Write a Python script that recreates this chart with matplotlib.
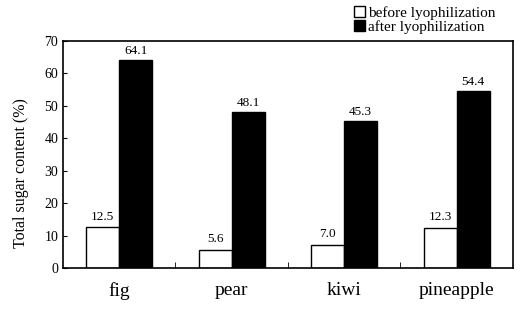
import matplotlib.pyplot as plt
import matplotlib.patches as mpatches
import numpy as np

plt.rcParams['font.family'] = ['Liberation Serif', 'DejaVu Serif']

fruits = ["fig", "pear", "kiwi", "pineapple"]
before = [12.5, 5.6, 7.0, 12.3]
after = [64.1, 48.1, 45.3, 54.4]

fig = plt.figure(figsize=(5.22, 3.12), dpi=100)
ax = fig.add_axes([0.1207, 0.141, 0.862, 0.728])

x = np.arange(len(fruits))
w = 0.293
ax.bar(x - w / 2, before, w, color="white", edgecolor="black", linewidth=1.0)
ax.bar(x + w / 2, after, w, color="black", edgecolor="black", linewidth=1.0)

for xi, b, a in zip(x, before, after):
    ax.text(xi - w / 2, b + 1.5, f"{b:.1f}", ha="center", va="bottom", fontsize=9.5)
    ax.text(xi + w / 2, a + 1.0, f"{a:.1f}", ha="center", va="bottom", fontsize=9.5)

ax.set_xlim(-0.5, 3.5)
ax.set_ylim(0, 70)
ax.set_yticks(range(0, 71, 10))
ax.set_xticks(x)
ax.set_xticklabels(fruits, fontsize=14)
ax.tick_params(axis="x", length=0, pad=10)
ax.tick_params(axis="y", direction="in", length=3, labelsize=10)
ax.set_xticks(x[:-1] + 0.5, minor=True)
ax.tick_params(axis="x", which="minor", direction="in", length=4)
ax.set_ylabel("Total sugar content (%)", fontsize=11.5)
ax.yaxis.set_label_coords(-0.075, 0.42)
for s in ax.spines.values():
    s.set_linewidth(1.2)

handles = [mpatches.Patch(facecolor="white", edgecolor="black", label="before lyophilization"),
           mpatches.Patch(facecolor="black", edgecolor="black", label="after lyophilization")]
fig.legend(handles=handles, loc="upper right", bbox_to_anchor=(0.97, 1.015), frameon=False,
           fontsize=11, handlelength=0.75, handleheight=0.75, handletextpad=0.2,
           labelspacing=0.0, borderpad=0.2)

fig.savefig("out.png", dpi=100)
